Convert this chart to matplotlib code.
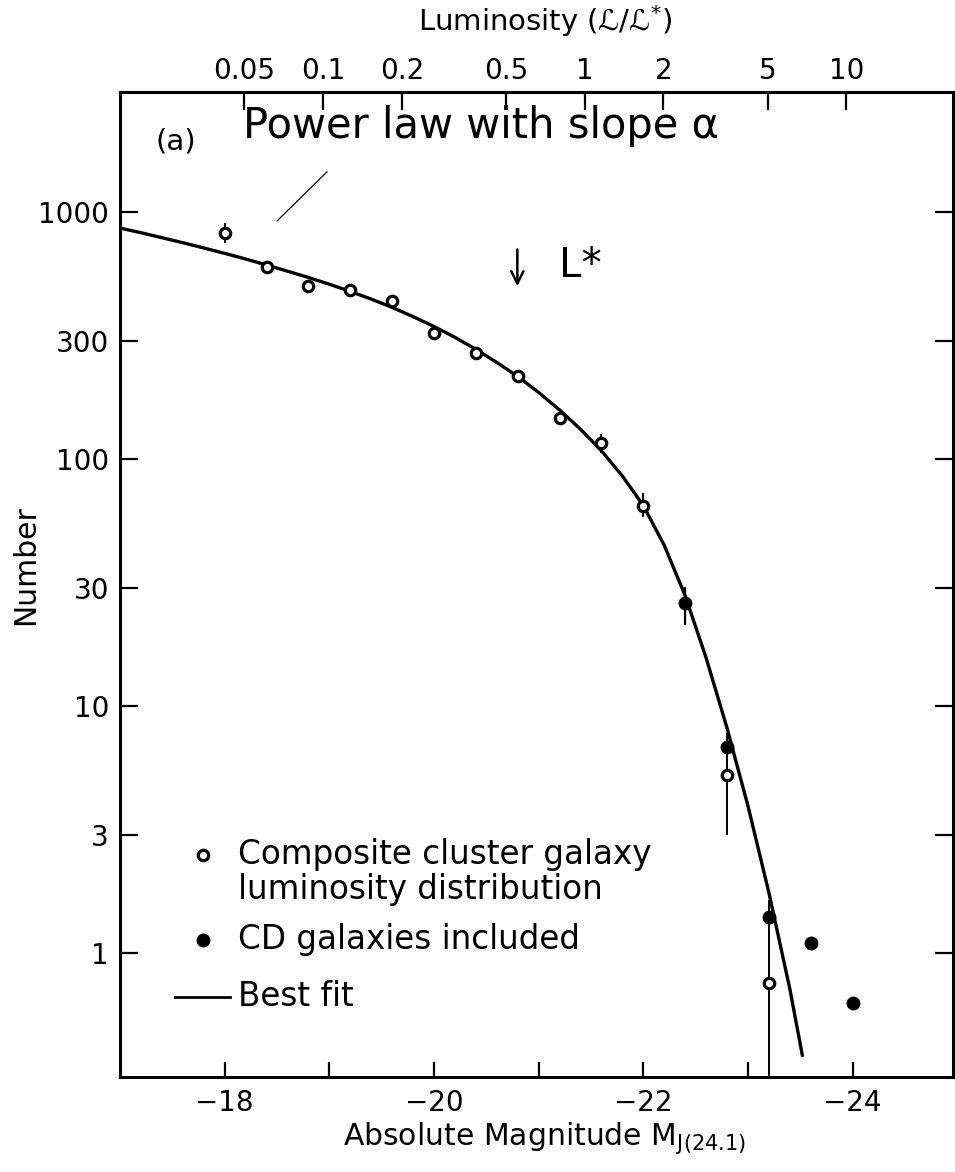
import numpy as np
import matplotlib.pyplot as plt
from matplotlib.ticker import NullLocator

plt.rcParams['font.family'] = ['DejaVu Sans']
plt.rcParams['mathtext.fontset'] = 'dejavusans'

# Composite cluster galaxy luminosity distribution (open circles)
open_mag = [-18.0, -18.4, -18.8, -19.2, -19.6, -20.0, -20.4, -20.8, -21.2, -21.6, -22.0, -22.8, -23.2]
open_n = [822, 598, 501, 483, 436, 324, 268, 217, 147, 116, 64.6, 5.26, 0.757]
open_lo = [749, 585, 490, 472, 426, 316, 262, 212, 143, 106, 58.2, 3.0, 0.05]
open_hi = [902, 612, 512, 494, 446, 332, 274, 222, 151, 126, 72.8, 7.8, 1.64]

# CD galaxies included (filled circles)
cd_mag = [-22.4, -22.8, -23.2, -23.6, -24.0]
cd_n = [26.1, 6.8, 1.40, 1.10, 0.63]
cd_lo = [21.3, 6.8, 1.40, 1.10, 0.63]
cd_hi = [30.3, 6.8, 1.40, 1.10, 0.63]

# Best fit curve
fit_mag = [-17.0, -17.2, -17.4, -17.6, -17.8, -18.0, -18.2, -18.4, -18.6, -18.8,
           -19.0, -19.2, -19.4, -19.6, -19.8, -20.0, -20.2, -20.4, -20.6, -20.8,
           -21.0, -21.2, -21.4, -21.6, -21.8, -22.0, -22.2, -22.4, -22.6, -22.8,
           -23.0, -23.2, -23.4, -23.52]
fit_n = [861, 824, 787, 751, 715, 680, 645, 610, 576, 543,
         510, 477, 444, 411, 377, 344, 311, 278, 246, 216,
         186, 158, 132, 108, 85.4, 64.8, 44.8, 28.0, 15.7, 8.16,
         3.95, 1.76, 0.719, 0.386]

y_ticks = [1, 3, 10, 30, 100, 300, 1000]
x_ticks = [-18, -20, -22, -24]
x_minor = [-19, -21, -23]
lum_ticks = [0.05, 0.1, 0.2, 0.5, 1, 2, 5, 10]
lum_labels = ['0.05', '0.1', '0.2', '0.5', '1', '2', '5', '10']
m_star = -21.44

fig = plt.figure(figsize=(9.55, 11.72), dpi=100)
ax = fig.add_axes([0.1257, 0.0811, 0.8722, 0.8404])

ax.plot(fit_mag, fit_n, color='black', lw=2.4, zorder=2)

open_n_arr = np.array(open_n)
yerr_open = [open_n_arr - np.array(open_lo), np.array(open_hi) - open_n_arr]
ax.errorbar(open_mag, open_n, yerr=yerr_open, fmt='o', ms=7.5, mfc='white', mec='black',
            mew=2.3, ecolor='black', elinewidth=1.4, capsize=0, zorder=3)

cd_n_arr = np.array(cd_n)
yerr_cd = [cd_n_arr - np.array(cd_lo), np.array(cd_hi) - cd_n_arr]
ax.errorbar(cd_mag, cd_n, yerr=yerr_cd, fmt='o', ms=9, mfc='black', mec='black',
            ecolor='black', elinewidth=1.6, capsize=0, zorder=4)

ax.set_yscale('log')
ax.set_xlim(-17, -24.96)
ax.set_ylim(0.315, 3060)

ax.set_yticks(y_ticks, labels=[str(v) for v in y_ticks])
ax.yaxis.set_minor_locator(NullLocator())
ax.set_xticks(x_ticks, labels=[str(v).replace('-', '\u2212') for v in x_ticks])
ax.set_xticks(x_minor, minor=True)

ax.tick_params(axis='y', which='major', direction='in', length=13, width=1.6,
               labelsize=20, pad=8, left=True, right=True)
ax.tick_params(axis='x', which='both', direction='in', length=11, width=1.6,
               labelsize=20, pad=9, top=False)
for s in ax.spines.values():
    s.set_linewidth(2.2)

ax.set_ylabel('Number', fontsize=21.5)
ax.yaxis.set_label_coords(-0.096, 0.52)
ax.set_xlabel(r'Absolute Magnitude M$_{\mathrm{J(24.1)}}$', fontsize=21.5, va='baseline')
ax.xaxis.set_label_coords(0.51, -0.069)

# Luminosity axis on top
sec = ax.secondary_xaxis('top', functions=(
    lambda m: 10 ** (-0.4 * (np.asarray(m) - m_star)),
    lambda l: m_star - 2.5 * np.log10(np.clip(l, 1e-6, None))))
sec.set_xticks(lum_ticks, labels=lum_labels)
sec.xaxis.set_minor_locator(NullLocator())
sec.tick_params(direction='in', length=13, width=1.6, labelsize=20, pad=5)
sec.spines['top'].set_linewidth(2.2)
ax.text(0.51, 1.062, 'Luminosity (\u2112/\u2112$^{*}$)', transform=ax.transAxes,
        fontsize=21, ha='center', va='baseline')

# Annotations
ax.text(0.042, 0.950, '(a)', transform=ax.transAxes, fontsize=21, va='center', ha='left')
ax.text(0.1477, 0.953, 'Power law with slope \u03b1', transform=ax.transAxes,
        fontsize=30, va='baseline', ha='left')
ax.annotate('', xy=(0.186, 0.867), xytext=(0.251, 0.921), xycoords='axes fraction',
            arrowprops=dict(arrowstyle='-', lw=0.9, color='black'))
ax.annotate('', xy=(0.477, 0.800), xytext=(0.477, 0.843), xycoords='axes fraction',
            arrowprops=dict(arrowstyle='->', lw=1.8, color='black', mutation_scale=22))
ax.text(0.527, 0.812, 'L*', transform=ax.transAxes, fontsize=29, va='baseline', ha='left')

# Legend drawn by hand
ax.plot([0.0996], [0.2254], 'o', ms=7.5, mfc='white', mec='black', mew=2.3,
        transform=ax.transAxes, clip_on=False)
ax.text(0.1417, 0.2254, 'Composite cluster galaxy', transform=ax.transAxes,
        fontsize=23.5, va='center', ha='left')
ax.text(0.1417, 0.1900, 'luminosity distribution', transform=ax.transAxes,
        fontsize=23.5, va='center', ha='left')
ax.plot([0.0996], [0.1391], 'o', ms=9, mfc='black', mec='black',
        transform=ax.transAxes, clip_on=False)
ax.text(0.1417, 0.1391, 'CD galaxies included', transform=ax.transAxes,
        fontsize=23.5, va='center', ha='left')
ax.plot([0.066, 0.132], [0.0812, 0.0812], color='black', lw=2.0, transform=ax.transAxes)
ax.text(0.1417, 0.0812, 'Best fit', transform=ax.transAxes,
        fontsize=23.5, va='center', ha='left')

fig.savefig('out.png', dpi=100)
